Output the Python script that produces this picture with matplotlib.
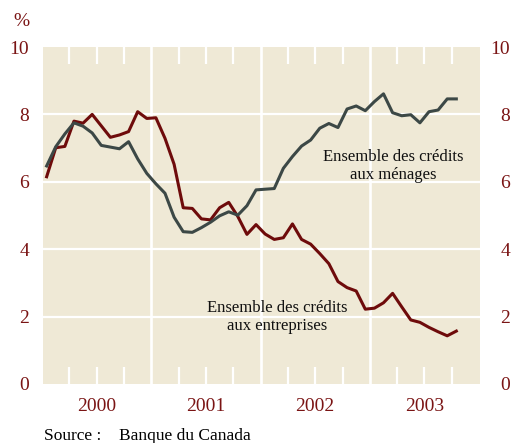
import numpy as np
import matplotlib
matplotlib.use("Agg")
import matplotlib.pyplot as plt

# Monthly data, Jan 2000 - Oct 2003 (%)
menages = [6.47, 7.04, 7.42, 7.75, 7.65, 7.45, 7.08, 7.03, 6.98, 7.19, 6.68, 6.25,
           5.94, 5.66, 4.95, 4.52, 4.50, 4.64, 4.80, 4.99, 5.11, 5.01, 5.29, 5.76,
           5.78, 5.80, 6.40, 6.75, 7.06, 7.24, 7.59, 7.73, 7.61, 8.16, 8.25, 8.11,
           8.38, 8.61, 8.05, 7.96, 7.99, 7.75, 8.08, 8.13, 8.46, 8.46]
entreprises = [6.15, 7.01, 7.05, 7.80, 7.74, 8.00, 7.66, 7.32, 7.39, 7.49, 8.08, 7.88,
               7.90, 7.29, 6.52, 5.23, 5.21, 4.90, 4.87, 5.23, 5.39, 4.97, 4.44, 4.73,
               4.45, 4.29, 4.34, 4.75, 4.29, 4.15, 3.87, 3.57, 3.04, 2.86, 2.76, 2.22,
               2.25, 2.41, 2.69, 2.29, 1.90, 1.83, 1.68, 1.55, 1.43, 1.57]
years = ["2000", "2001", "2002", "2003"]
yticks = [0, 2, 4, 6, 8, 10]

RED = "#6e0b0b"
GREEN = "#3c4846"
LABEL = "#7a1414"
BG = "#efe9d6"

plt.rcParams['font.family'] = ['Liberation Serif', 'DejaVu Serif']

fig = plt.figure(figsize=(5.13, 4.43), dpi=100)
ax = fig.add_axes([43/513, 59/443, 437/513, 337/443])
ax.set_facecolor(BG)
for s in ax.spines.values():
    s.set_visible(False)

x = np.arange(len(menages)) + 0.5
ax.set_xlim(0.1, 48.1)
ax.set_ylim(0, 10)

# grid
for v in [2, 4, 6, 8]:
    ax.axhline(v, color="white", lw=1.6, zorder=1)
for yb in [12, 24, 36]:
    ax.axvline(yb, color="white", lw=1.9, zorder=1)
for q in [3, 6, 9, 15, 18, 21, 27, 30, 33, 39, 42, 45]:
    ax.plot([q, q], [9.5, 10], color="white", lw=1.6, zorder=1, solid_capstyle="butt")
    ax.plot([q, q], [0, 0.5], color="white", lw=1.6, zorder=1, solid_capstyle="butt")

ax.plot(x, entreprises, color=RED, lw=2.2, zorder=3)
ax.plot(x, menages, color=GREEN, lw=2.2, zorder=3)

ax.set_yticks(yticks)
ax.set_yticklabels([str(t) for t in yticks], color=LABEL, fontsize=14)
ax.tick_params(axis='y', length=0, pad=10)
ax.set_xticks([6, 18, 30, 42])
ax.set_xticklabels(years, color=LABEL, fontsize=14)
ax.tick_params(axis='x', length=0, pad=10)

ax2 = ax.twinx()
ax2.set_ylim(0, 10)
for s in ax2.spines.values():
    s.set_visible(False)
ax2.set_yticks(yticks)
ax2.set_yticklabels([str(t) for t in yticks], color=LABEL, fontsize=14, ha='right')
ax2.tick_params(axis='y', length=0, pad=30/100*72)

fig.text(21.7/513, 1 - 21.7/443, "%", color=LABEL, fontsize=14, ha='center', va='center')

ax.text(38.6, 6.46, "Ensemble des crédits\naux ménages", fontsize=12,
        ha='center', va='center', linespacing=1.2, color="#111111", zorder=4)
ax.text(25.85, 1.99, "Ensemble des crédits\naux entreprises", fontsize=12,
        ha='center', va='center', linespacing=1.2, color="#111111", zorder=4)

fig.text(44/513, 1 - 436/443, "Source :", fontsize=12.5, ha='left', va='center')
fig.text(119/513, 1 - 436/443, "Banque du Canada", fontsize=12.5, ha='left', va='center')

fig.savefig("out.png", dpi=100)
